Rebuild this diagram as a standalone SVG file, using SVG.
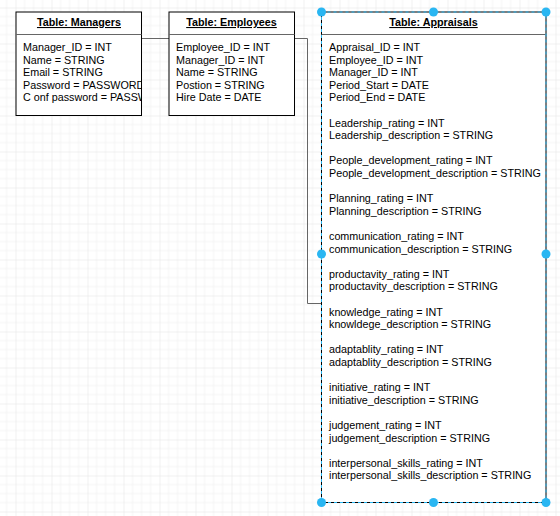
<svg xmlns="http://www.w3.org/2000/svg" width="560" height="516" viewBox="0 0 560 516">
<style>
.box{fill:#ffffff;stroke:#000000;stroke-width:1}
.sep{stroke:#666666;stroke-width:1}
.title{font-family:"Liberation Sans",Arial,sans-serif;font-size:10.75px;font-weight:bold;text-decoration:underline;text-anchor:middle;fill:#000}
.body{font-family:"Liberation Sans",Arial,sans-serif;font-size:10.75px;fill:#000}
.edge{fill:none;stroke:#666666;stroke-width:1}
.handle{fill:#29b6f2;stroke:none}
</style>
<defs>
<pattern id="grid" x="15.5" y="7.5" width="36" height="36" patternUnits="userSpaceOnUse">
<path d="M9 0V36M18 0V36M27 0V36M0 9H36M0 18H36M0 27H36" stroke="#f4f4f4" stroke-width="1" fill="none"/>
<path d="M0 0V36M0 0H36" stroke="#e4e4e4" stroke-width="1" fill="none"/>
</pattern>
<clipPath id="clipM"><rect x="16" y="12" width="125.5" height="104"/></clipPath>
</defs>
<rect width="560" height="516" fill="#ffffff"/>
<rect width="560" height="516" fill="url(#grid)"/>
<g id="connectors">
<path class="edge" d="M141.5 38.5H169"/>
<path class="edge" d="M294.5 38.5H307.5V303.5H321.5"/>
</g>
<g id="managers">
<rect class="box" x="16" y="12" width="125.5" height="103.5"/>
<line class="sep" x1="16" y1="34.5" x2="141.5" y2="34.5"/>
<text class="title" x="79" y="26">Table: Managers</text>
<g clip-path="url(#clipM)">
<text class="body" x="23" y="51"><tspan x="23">Manager_ID = INT</tspan><tspan x="23" dy="12.6">Name = STRING</tspan><tspan x="23" dy="12.6">Email = STRING</tspan><tspan x="23" dy="12.6">Password = PASSWORD</tspan><tspan x="23" dy="12.6">C onf password = PASSWORD</tspan></text>
</g>
</g>
<g id="employees">
<rect class="box" x="169" y="12" width="125.5" height="103.5"/>
<line class="sep" x1="169" y1="34.5" x2="294.5" y2="34.5"/>
<text class="title" x="231.5" y="26">Table: Employees</text>
<text class="body" x="176" y="51"><tspan x="176">Employee_ID = INT</tspan><tspan x="176" dy="12.6">Manager_ID = INT</tspan><tspan x="176" dy="12.6">Name = STRING</tspan><tspan x="176" dy="12.6">Postion = STRING</tspan><tspan x="176" dy="12.6">Hire Date = DATE</tspan></text>
</g>
<g id="appraisals">
<rect class="box" x="321.5" y="12" width="224.5" height="490.5"/>
<line class="sep" x1="321.5" y1="34.5" x2="546" y2="34.5"/>
<text class="title" x="433.5" y="26">Table: Appraisals</text>
<text class="body" x="329" y="51"><tspan x="329">Appraisal_ID = INT</tspan><tspan x="329" dy="12.6">Employee_ID = INT</tspan><tspan x="329" dy="12.6">Manager_ID = INT</tspan><tspan x="329" dy="12.6">Period_Start = DATE</tspan><tspan x="329" dy="12.6">Period_End = DATE</tspan><tspan x="329" dy="25.2">Leadership_rating = INT</tspan><tspan x="329" dy="12.6">Leadership_description = STRING</tspan><tspan x="329" dy="25.2">People_development_rating = INT</tspan><tspan x="329" dy="12.6">People_development_description = STRING</tspan><tspan x="329" dy="25.2">Planning_rating = INT</tspan><tspan x="329" dy="12.6">Planning_description = STRING</tspan><tspan x="329" dy="25.2">communication_rating = INT</tspan><tspan x="329" dy="12.6">communication_description = STRING</tspan><tspan x="329" dy="25.2">productavity_rating = INT</tspan><tspan x="329" dy="12.6">productavity_description = STRING</tspan><tspan x="329" dy="25.2">knowledge_rating = INT</tspan><tspan x="329" dy="12.6">knowldege_description = STRING</tspan><tspan x="329" dy="25.2">adaptablity_rating = INT</tspan><tspan x="329" dy="12.6">adaptablity_description = STRING</tspan><tspan x="329" dy="25.2">initiative_rating = INT</tspan><tspan x="329" dy="12.6">initiative_description = STRING</tspan><tspan x="329" dy="25.2">judgement_rating = INT</tspan><tspan x="329" dy="12.6">judgement_description = STRING</tspan><tspan x="329" dy="25.2">interpersonal_skills_rating = INT</tspan><tspan x="329" dy="12.6">interpersonal_skills_description = STRING</tspan></text>
<rect x="321.5" y="12" width="224.5" height="490.5" fill="none" stroke="#29b6f2" stroke-width="1" stroke-dasharray="3 3"/>
<circle class="handle" cx="321.5" cy="12" r="4.5"/>
<circle class="handle" cx="433.5" cy="12" r="4.5"/>
<circle class="handle" cx="546" cy="12" r="4.5"/>
<circle class="handle" cx="321.5" cy="254" r="4.5"/>
<circle class="handle" cx="546" cy="254" r="4.5"/>
<circle class="handle" cx="321.5" cy="502.5" r="4.5"/>
<circle class="handle" cx="433.5" cy="502.5" r="4.5"/>
<circle class="handle" cx="546" cy="502.5" r="4.5"/>
</g>
</svg>
